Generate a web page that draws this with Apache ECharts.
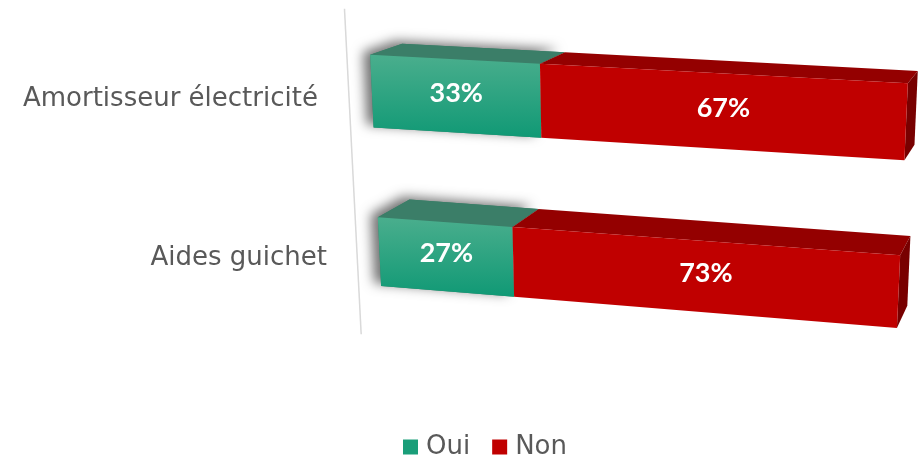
<!DOCTYPE html>
<html>
<head>
<meta charset="utf-8">
<script src="https://cdn.jsdelivr.net/npm/echarts@6/dist/echarts.min.js"></script>
<style>html,body{margin:0;padding:0;background:#fff}#c{width:918px;height:457px}</style>
</head>
<body>
<div id="c"></div>
<script>
// ---- data ----
const categories = ['Amortisseur électricité', 'Aides guichet'];
const seriesNames = ['Oui', 'Non'];
const ouiValues = [33, 27];
const nonValues = [67, 73];

// ---- styles ----
const FRONT = {
  Oui: ['#4aae8d', '#109975'],
  Non: ['#c00000', '#c00000']
};
const TOP = { Oui: '#3b7e68', Non: '#940000' };
const SIDE = { Oui: '#2a6654', Non: '#780000' };
const LEGEND_COLOR = { Oui: '#1a9e79', Non: '#c00000' };
const BAR_FRAC = 0.44;
// perspective: offsets of projected grid corners (tl, tr, br, bl) relative to the flat grid corners
const PERSP = { tl: [-2.1, -2.3], tr: [2.1, 23.1], br: [-13.1, 38.1], bl: [13.1, -6.3] };
const VANISH = { dx: 242, dy: -225, t: 0.041 }; // depth vanishing point relative to grid top-right
const AXIS_OFFSET = -25;   // flat px left of grid for the wall line
const AXIS_EXT = [2, 8];   // extra flat px at top / bottom of the wall line
const LABEL_OFFSET = -59;  // flat px left of grid for category labels
const LABEL_DY = 11;
const VALUE_DY = -3;
const TEXT_FONT = 'DejaVu Sans';

function squareToQuad(q) {
  const [x0, y0] = q[0], [x1, y1] = q[1], [x2, y2] = q[2], [x3, y3] = q[3];
  const dx1 = x1 - x2, dx2 = x3 - x2, dx3 = x0 - x1 + x2 - x3;
  const dy1 = y1 - y2, dy2 = y3 - y2, dy3 = y0 - y1 + y2 - y3;
  const den = dx1 * dy2 - dx2 * dy1;
  const g = (dx3 * dy2 - dx2 * dy3) / den;
  const h = (dx1 * dy3 - dx3 * dy1) / den;
  return { a: x1 - x0 + g * x1, b: x3 - x0 + h * x3, c: x0,
           d: y1 - y0 + g * y1, e: y3 - y0 + h * y3, f: y0, g, h };
}
function applyH(H, u, v) {
  const w = H.g * u + H.h * v + 1;
  return [(H.a * u + H.b * v + H.c) / w, (H.d * u + H.e * v + H.f) / w];
}

function makeRender(name, isFirst, isLast) {
  return function (params, api) {
    const cs = params.coordSys;
    const H = squareToQuad([
      [cs.x + PERSP.tl[0], cs.y + PERSP.tl[1]],
      [cs.x + cs.width + PERSP.tr[0], cs.y + PERSP.tr[1]],
      [cs.x + cs.width + PERSP.br[0], cs.y + cs.height + PERSP.br[1]],
      [cs.x + PERSP.bl[0], cs.y + cs.height + PERSP.bl[1]]
    ]);
    const P = (x, y) => applyH(H, (x - cs.x) / cs.width, (y - cs.y) / cs.height);
    const V = [cs.x + cs.width + VANISH.dx, cs.y + VANISH.dy];
    const back = p => [p[0] + VANISH.t * (V[0] - p[0]), p[1] + VANISH.t * (V[1] - p[1])];

    const start = api.value(0), end = api.value(1), cat = api.value(2);
    const a = api.coord([start, cat]), b = api.coord([end, cat]);
    const bh = api.size([0, 1])[1] * BAR_FRAC;
    const yT = a[1] - bh / 2, yB = a[1] + bh / 2;
    const fTL = P(a[0], yT), fTR = P(b[0], yT), fBR = P(b[0], yB), fBL = P(a[0], yB);
    const bTL = back(fTL), bTR = back(fTR), bBR = back(fBR);
    const children = [];

    if (isFirst && params.dataIndex === 0) {
      const l0 = P(cs.x + AXIS_OFFSET, cs.y + AXIS_EXT[0]);
      const l1 = P(cs.x + AXIS_OFFSET, cs.y + cs.height + AXIS_EXT[1]);
      children.push({ type: 'line', shape: { x1: l0[0], y1: l0[1], x2: l1[0], y2: l1[1] },
        style: { stroke: '#d9d9d9', lineWidth: 1.5 } });
    }
    if (isFirst) {
      children.push({ type: 'polygon', shape: { points: [fBL, fTL, bTL, bTR, fTR, fBR] },
        style: { fill: TOP[name], shadowBlur: 12, shadowOffsetX: -7, shadowOffsetY: -3,
                 shadowColor: 'rgba(0,0,0,0.55)' } });
      const lp = P(cs.x + LABEL_OFFSET, a[1] + LABEL_DY);
      children.push({ type: 'text', style: { text: categories[cat], x: lp[0], y: lp[1],
        align: 'right', verticalAlign: 'middle', fill: '#595959',
        fontSize: 26, fontFamily: TEXT_FONT } });
    }
    children.push({ type: 'polygon', shape: { points: [fTL, bTL, bTR, fTR] },
      style: { fill: TOP[name] } });
    if (isLast) {
      children.push({ type: 'polygon', shape: { points: [fTR, bTR, bBR, fBR] },
        style: { fill: SIDE[name] } });
    }
    children.push({ type: 'polygon', shape: { points: [fTL, fTR, fBR, fBL] },
      style: { fill: new echarts.graphic.LinearGradient(0, 0, 0, 1, [
        { offset: 0, color: FRONT[name][0] }, { offset: 1, color: FRONT[name][1] }]) } });
    const cx = (fTL[0] + fTR[0] + fBR[0] + fBL[0]) / 4;
    const cy = (fTL[1] + fTR[1] + fBR[1] + fBL[1]) / 4;
    children.push({ type: 'text', style: { text: Math.round(end - start) + '%', x: cx, y: cy + VALUE_DY,
      align: 'center', verticalAlign: 'middle', fill: '#ffffff',
      fontSize: 27, fontWeight: 'bold', fontFamily: 'Lato' } });
    return { type: 'group', children };
  };
}

const seriesValues = [ouiValues, nonValues];
const series = seriesNames.map((name, si) => ({
  type: 'custom',
  name,
  itemStyle: { color: LEGEND_COLOR[name] },
  encode: { x: [0, 1], y: 2 },
  renderItem: makeRender(name, si === 0, si === seriesNames.length - 1),
  data: categories.map((c, i) => {
    let s = 0;
    for (let k = 0; k < si; k++) s += seriesValues[k][i];
    return [s, s + seriesValues[si][i], i];
  })
}));

const chart = echarts.init(document.getElementById('c'));
chart.setOption({
  animation: false,
  grid: { left: 370, right: 10, top: 10, height: 325 },
  xAxis: { type: 'value', min: 0, max: 100, show: false },
  yAxis: { type: 'category', data: categories, inverse: true, show: false },
  legend: {
    top: 434, left: 403, padding: 0, icon: 'rect', itemWidth: 15, itemHeight: 15, itemGap: 22,
    data: seriesNames,
    textStyle: { fontSize: 26, color: '#595959', fontFamily: TEXT_FONT, padding: [0, 0, 0, 3] }
  },
  series
});
</script>
</body>
</html>
